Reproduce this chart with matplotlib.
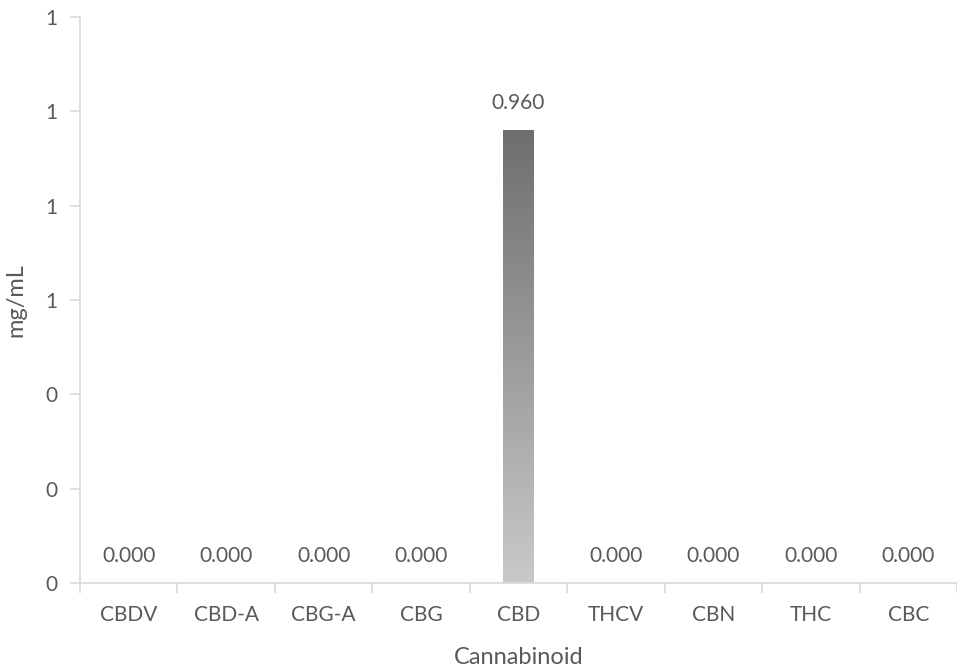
import numpy as np
import matplotlib.pyplot as plt
from matplotlib.patches import Rectangle
from matplotlib.ticker import FuncFormatter
from matplotlib.colors import LinearSegmentedColormap

plt.rcParams['font.family'] = ['Lato', 'DejaVu Sans']

# DATA
cannabinoids = ['CBDV', 'CBD-A', 'CBG-A', 'CBG', 'CBD', 'THCV', 'CBN', 'THC', 'CBC']
values = [0.0, 0.0, 0.0, 0.0, 0.960, 0.0, 0.0, 0.0, 0.0]
yticks = [0, 0.2, 0.4, 0.6, 0.8, 1.0, 1.2]

txt = '#595959'
axcol = '#d9d9d9'

fig = plt.figure(figsize=(9.57, 6.68), dpi=100)
ax = fig.add_axes([80/957, 85/668, 877/957, 566/668])

x = np.arange(len(cannabinoids))
w = 0.31
bars = ax.bar(x, values, width=w, color='none', edgecolor='none')

# gradient fill, dark at top -> light at bottom
grad = np.linspace(0, 1, 256).reshape(-1, 1)
cmap = LinearSegmentedColormap.from_list('g', ['#c9c9c9', '#6e6e6e'])
for b, v in zip(bars, values):
    if v <= 0:
        continue
    x0 = b.get_x()
    im = ax.imshow(grad, extent=[x0, x0 + w, 0, v], origin='lower', cmap=cmap,
                   aspect='auto', zorder=2)
    im.set_clip_path(Rectangle((x0, 0), w, v, transform=ax.transData))

for xi, v in zip(x, values):
    ax.text(xi, v + 0.036, f'{v:.3f}', ha='center', va='bottom', fontsize=15, color=txt)

ax.set_xlim(-0.5, len(cannabinoids) - 0.5)
ax.set_ylim(0, 1.2)
ax.set_yticks(yticks)
ax.yaxis.set_major_formatter(FuncFormatter(lambda v, p: f'{v:.0f}'))

ax.set_xticks(np.arange(len(cannabinoids) + 1) - 0.5)
ax.set_xticklabels([])
ax.set_xticks(x, minor=True)
ax.set_xticklabels(cannabinoids, minor=True)
ax.tick_params(axis='x', which='major', length=7, color=axcol, width=1.2)
ax.tick_params(axis='x', which='minor', length=0, pad=16, labelsize=15, labelcolor=txt)
ax.tick_params(axis='y', length=7, color=axcol, width=1.2, labelsize=15, labelcolor=txt, pad=9)

for s in ['top', 'right']:
    ax.spines[s].set_visible(False)
for s in ['left', 'bottom']:
    ax.spines[s].set_color(axcol)
    ax.spines[s].set_linewidth(1.2)

ax.set_xlabel('Cannabinoid', fontsize=17, color=txt, labelpad=16)
ax.set_ylabel('mg/mL', fontsize=17, color=txt, labelpad=14)

fig.savefig('out.png', dpi=100)
